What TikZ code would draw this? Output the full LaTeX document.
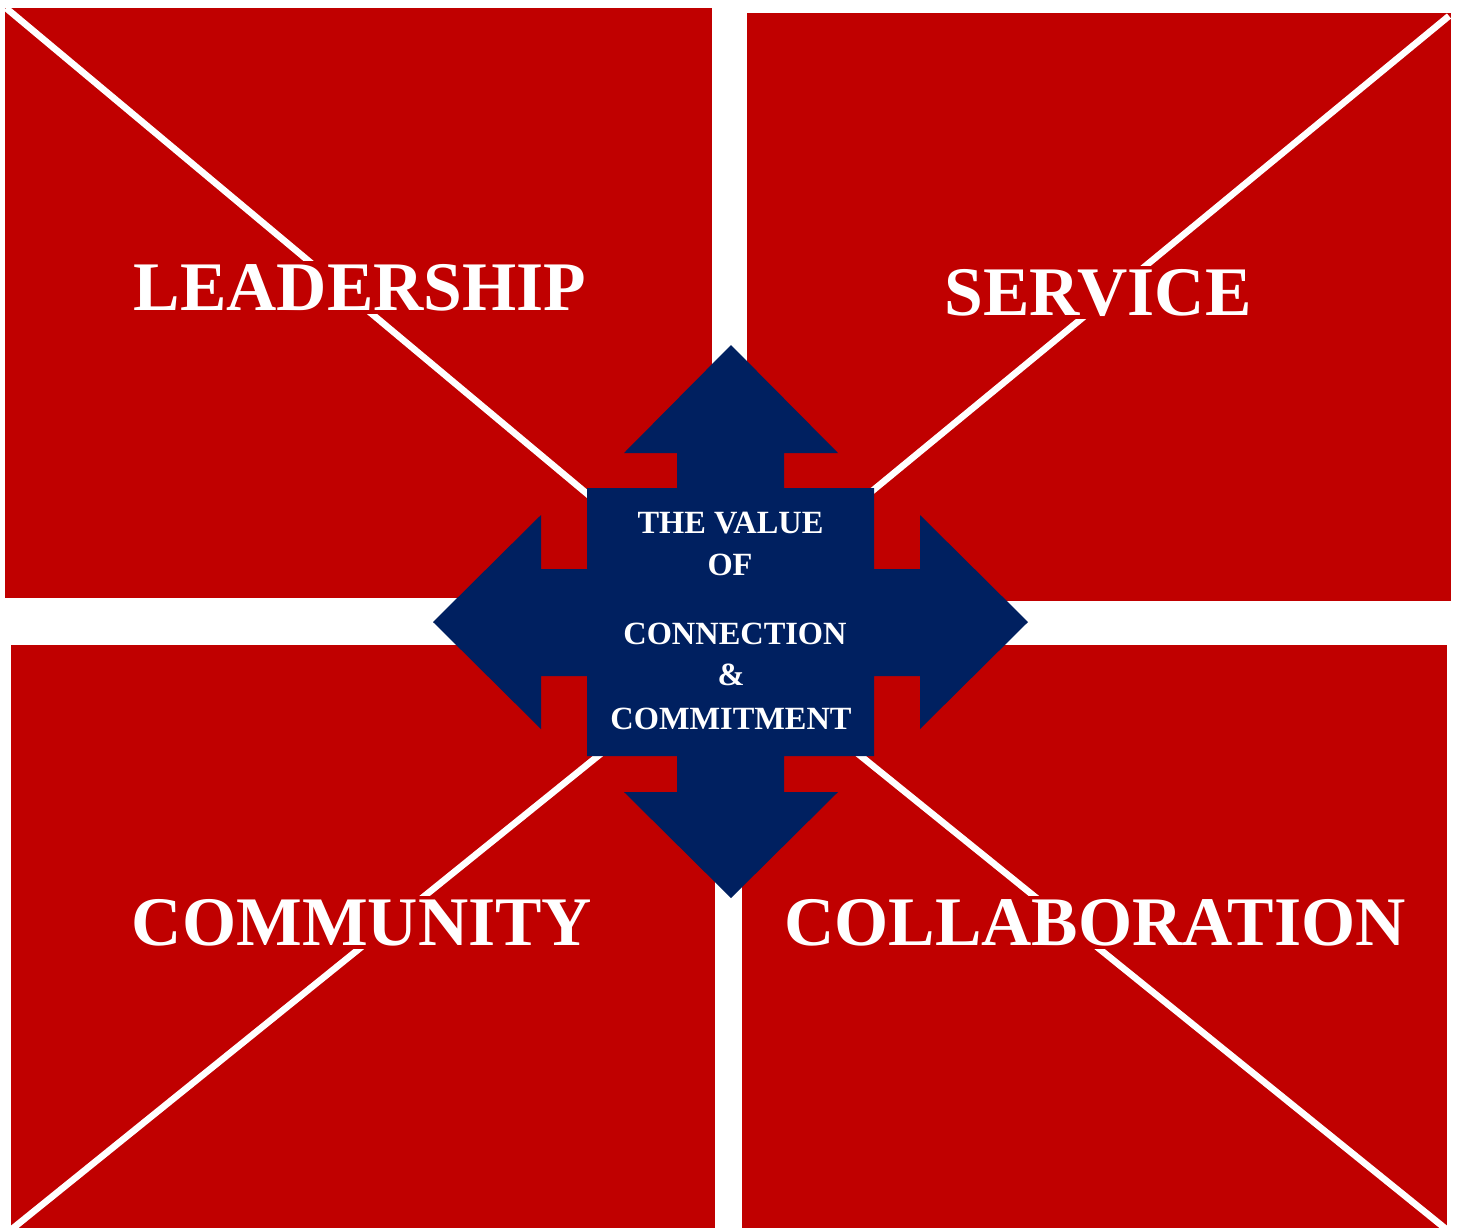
\documentclass[tikz,border=0pt]{standalone}
\usepackage{fontspec}
\setmainfont{Liberation Serif}
\definecolor{boxred}{RGB}{192,0,0}
\definecolor{navy}{RGB}{0,32,96}
\begin{document}
\begin{tikzpicture}[x=0.5pt,y=-0.5pt,
  quad/.style={fill=boxred},
  diag/.style={draw=white,line width=3.3pt},
  biglabel/.style={anchor=base,fill=boxred,text=white,inner xsep=0pt,inner ysep=1.5pt,
    font=\fontsize{34.8}{40}\selectfont\bfseries},
  midlabel/.style={anchor=base,text=white,inner sep=0pt,
    font=\fontsize{16.2}{18}\selectfont\bfseries}]
\useasboundingbox (0,0) rectangle (1458,1228);
% quadrants
\fill[quad] (5,8) rectangle (712,598);
\fill[quad] (747,13) rectangle (1451,601);
\fill[quad] (11,645) rectangle (715,1228);
\fill[quad] (742,645) rectangle (1447,1228);
% diagonals
\begin{scope}\clip (5,8) rectangle (712,598);
  \draw[diag] (6,8) -- (640,538);\end{scope}
\begin{scope}\clip (747,13) rectangle (1451,601);
  \draw[diag] (1449,16) -- (820,534);\end{scope}
\begin{scope}\clip (11,645) rectangle (715,1228);
  \draw[diag] (12,1229) -- (650,714);\end{scope}
\begin{scope}\clip (742,645) rectangle (1447,1228);
  \draw[diag] (1446,1229) -- (810,715);\end{scope}
% labels
\node[biglabel] (lead) at (360,310) {LEADERSHIP};
\node[biglabel] (serv) at (1098,315) {SERVICE};
\node[biglabel] (comm) at (362,945) {COMMUNITY};
\node[biglabel] (coll) at (1095,945) {COLLABORATION};
% cross arrow
\fill[navy] (731,345) -- (838,453) -- (784,453) -- (784,488) -- (874,488) -- (874,569)
  -- (920,569) -- (920,515) -- (1028,622) -- (920,729) -- (920,676) -- (874,676)
  -- (874,756) -- (784,756) -- (784,792) -- (838,792) -- (731,898) -- (624,792)
  -- (677,792) -- (677,756) -- (587,756) -- (587,676) -- (541,676) -- (541,729)
  -- (433,622) -- (541,515) -- (541,569) -- (587,569) -- (587,488) -- (677,488)
  -- (677,453) -- (624,453) -- cycle;
% centre text
\node[midlabel] (t1) at (730.5,533) {THE VALUE};
\node[midlabel] (t2) at (730,575) {OF};
\node[midlabel] (t3) at (735,644) {CONNECTION};
\node[midlabel] (t4) at (731,685) {\&};
\node[midlabel] (t5) at (731,729) {COMMITMENT};
\end{tikzpicture}
\end{document}
